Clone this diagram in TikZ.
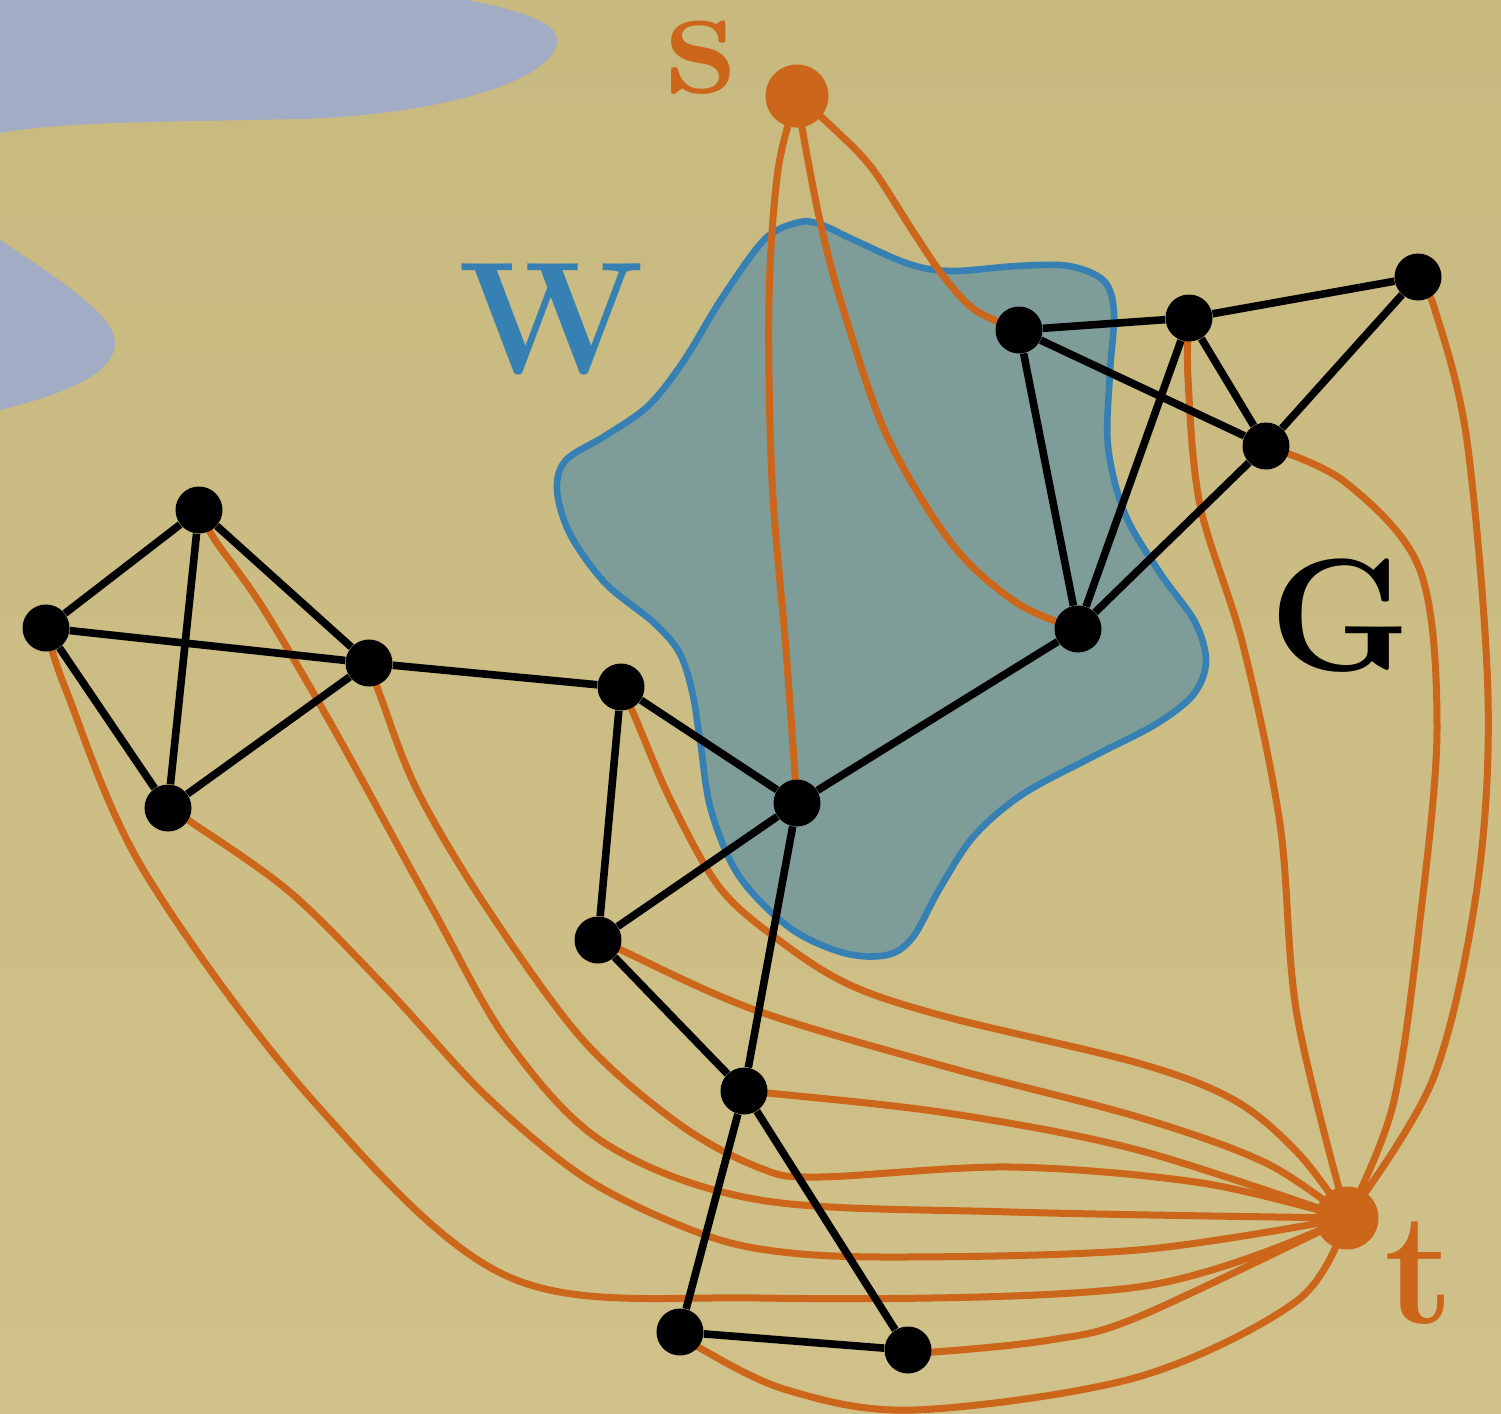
\documentclass[tikz,border=0pt]{standalone}
\usepackage{fontspec}
\pgfdeclarelayer{bg}
\pgfdeclarelayer{paths}
\pgfsetlayers{bg,paths,main}
\definecolor{bgTop}{RGB}{200,185,127}
\definecolor{bgBot}{RGB}{207,193,137}
\definecolor{water}{RGB}{162,172,196}
\definecolor{regionFill}{RGB}{127,157,152}
\definecolor{regionLine}{RGB}{54,128,180}
\definecolor{flow}{RGB}{204,102,26}
\tikzset{
  vtx/.style={circle, fill=black, inner sep=0pt, minimum size=23.5pt},
  term/.style={circle, fill=flow, inner sep=0pt, minimum size=31.5pt},
  blk/.style={draw=black, line width=3.8pt},
  org/.style={draw=flow, line width=3.5pt, line cap=round},
  lbl/.style={inner sep=0pt, anchor=base, font=\fontsize{80}{80}\selectfont\bfseries},
}
\begin{document}
\begin{tikzpicture}[x=0.5pt, y=-0.5pt]
\useasboundingbox (0,0) rectangle (1501,1414);

% vertices
\node[term] (s) at (797,96) {};
\node[term] (t) at (1347,1218) {};
\node[vtx] (A1) at (199,510) {};
\node[vtx] (A2) at (46,628) {};
\node[vtx] (A3) at (369,663) {};
\node[vtx] (A4) at (168,808) {};
\node[vtx] (B1) at (621,687) {};
\node[vtx] (B2) at (598,940) {};
\node[vtx] (C) at (797,803) {};
\node[vtx] (D) at (744,1091) {};
\node[vtx] (E1) at (680,1332) {};
\node[vtx] (E2) at (908,1350) {};
\node[vtx] (F) at (1078,629) {};
\node[vtx] (H1) at (1019,330) {};
\node[vtx] (H2) at (1189,318) {};
\node[vtx] (H3) at (1418,277) {};
\node[vtx] (H4) at (1266,446) {};

% labels
\node[lbl, text=flow] (ls) at (701,93) {s};
\node[lbl, text=flow] (lt) at (1420,1323) {t};
\node[lbl, text=regionLine] (lW) at (551,373) {W};
\node[lbl, text=black] (lG) at (1340,670) {G};

\begin{pgfonlayer}{bg}
  \fill[top color=bgTop, bottom color=bgBot] (0,0) rectangle (1501,1414);
  % water
  \fill[water] (0,0) -- (467,0) .. controls (530,12) and (557,25) .. (557,40)
     .. controls (557,80) and (440,115) .. (300,119)
     .. controls (150,122) and (60,122) .. (0,133) -- cycle;
  \fill[water] (0,240) .. controls (60,280) and (115,315) .. (115,343)
     .. controls (115,375) and (60,395) .. (0,410) -- cycle;
  % the set W
  \filldraw[fill=regionFill, draw=regionLine, line width=3.3pt]
    plot[smooth cycle, tension=0.55] coordinates {
      (800,222) (765,239) (722,298) (683,362) (648,406) (605,436) (566,460)
      (557,490) (570,534) (605,583) (653,622) (679,652) (692,691) (700,740)
      (711,810) (739,876) (790,928) (844,953) (887,955) (913,937) (940,888)
      (974,836) (1023,794) (1096,755) (1156,724) (1193,695) (1206,662)
      (1195,622) (1160,573) (1125,514) (1108,446) (1110,372) (1114,313)
      (1104,281) (1069,266) (1017,266) (952,271) (909,264) (852,239) (822,225)
    };
\end{pgfonlayer}

\begin{pgfonlayer}{paths}
  % paths leaving s
  \draw[org] plot[smooth, tension=0.55] coordinates {(s.center) (778,170) (769,300) (772,480) (786,650) (C.center)};
  \draw[org] plot[smooth, tension=0.55] coordinates {(s.center) (806,150) (822,230) (845,315) (887,436) (952,544) (1017,603) (F.center)};
  \draw[org] plot[smooth, tension=0.55] coordinates {(s.center) (830,125) (871,167) (914,233) (944,277) (975,310) (H1.center)};
  % paths entering t
  \draw[org] plot[smooth, tension=0.55] coordinates {(H3.center) (1435,310) (1467,441) (1488,696) (1477,888) (1433,1079) (t.center)};
  \draw[org] plot[smooth, tension=0.55] coordinates {(H4.center) (1345,482) (1420,570) (1437,728) (1420,920) (1393,1105) (t.center)};
  \draw[org] plot[smooth, tension=0.55] coordinates {(H2.center) (1188,378) (1200,505) (1243,645) (1280,824) (1297,1015) (t.center)};
  \draw[org] plot[smooth, tension=0.55] coordinates {(A2.center) (66,690) (144,871) (315,1103) (509,1277) (760,1298) (1138,1287) (t.center)};
  \draw[org] plot[smooth, tension=0.55] coordinates {(A4.center) (194,824) (291,893) (388,990) (485,1095) (582,1176) (679,1225) (760,1249) (883,1257) (1138,1250) (t.center)};
  \draw[org] plot[smooth, tension=0.55] coordinates {(A1.center) (215,540) (263,608) (335,731) (431,906) (509,1043) (606,1144) (760,1200) (1011,1212) (t.center)};
  \draw[org] plot[smooth, tension=0.55] coordinates {(A3.center) (380,695) (417,790) (485,905) (582,1039) (679,1124) (760,1168) (819,1177) (1011,1167) (1202,1183) (t.center)};
  \draw[org] plot[smooth, tension=0.55] coordinates {(B1.center) (635,717) (671,801) (720,888) (780,941) (850,985) (947,1017) (1138,1063) (1234,1100) (1298,1153) (t.center)};
  \draw[org] plot[smooth, tension=0.55] coordinates {(B2.center) (621,950) (755,1010) (947,1067) (1138,1117) (1266,1163) (t.center)};
  \draw[org] plot[smooth, tension=0.55] coordinates {(D.center) (768,1093) (947,1113) (1138,1150) (t.center)};
  \draw[org] plot[smooth, tension=0.55] coordinates {(E2.center) (934,1352) (1050,1340) (1138,1317) (t.center)};
  \draw[org] plot[smooth, tension=0.55] coordinates {(E1.center) (698,1347) (787,1390) (915,1410) (1138,1377) (1298,1300) (t.center)};

  % edges of G
  \draw[blk] (A1) -- (A2);
  \draw[blk] (A1) -- (A3);
  \draw[blk] (A1) -- (A4);
  \draw[blk] (A2) -- (A3);
  \draw[blk] (A2) -- (A4);
  \draw[blk] (A4) -- (A3);
  \draw[blk] (A3) -- (B1);
  \draw[blk] (B1) -- (C);
  \draw[blk] (B1) -- (B2);
  \draw[blk] (B2) -- (C);
  \draw[blk] (B2) -- (D);
  \draw[blk] (C) -- (D);
  \draw[blk] (C) -- (F);
  \draw[blk] (D) -- (E1);
  \draw[blk] (D) -- (E2);
  \draw[blk] (E1) -- (E2);
  \draw[blk] (F) -- (H1);
  \draw[blk] (F) -- (H2);
  \draw[blk] (F) -- (H4);
  \draw[blk] (H1) -- (H2);
  \draw[blk] (H1) -- (H4);
  \draw[blk] (H2) -- (H4);
  \draw[blk] (H2) -- (H3);
  \draw[blk] (H3) -- (H4);
\end{pgfonlayer}
\end{tikzpicture}
\end{document}
